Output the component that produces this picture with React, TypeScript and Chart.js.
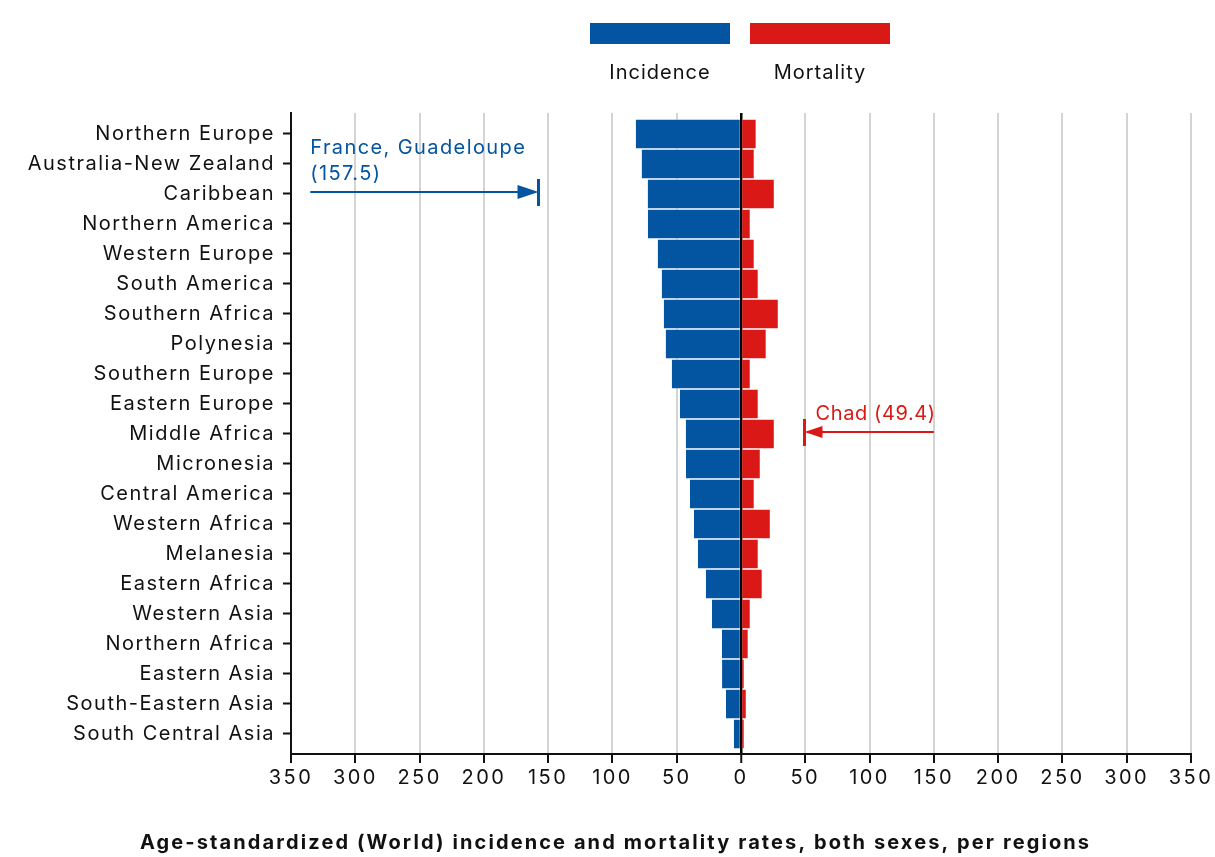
import React, { useEffect, useRef } from "react";
import { Chart, registerables } from "chart.js";

Chart.register(...registerables);

const regions = [
  "Northern Europe",
  "Australia-New Zealand",
  "Caribbean",
  "Northern America",
  "Western Europe",
  "South America",
  "Southern Africa",
  "Polynesia",
  "Southern Europe",
  "Eastern Europe",
  "Middle Africa",
  "Micronesia",
  "Central America",
  "Western Africa",
  "Melanesia",
  "Eastern Africa",
  "Western Asia",
  "Northern Africa",
  "Eastern Asia",
  "South-Eastern Asia",
  "South Central Asia",
];

const incidence = [
  81.8, 77.2, 72.5, 72.4, 64.7, 61.6, 60.0, 58.5, 53.8, 47.5, 42.9, 42.8,
  39.7, 36.6, 33.5, 27.3, 22.6, 14.8, 14.7, 11.7, 5.5,
];

const mortality = [
  11.4, 9.9, 25.5, 6.8, 9.9, 13.0, 28.6, 19.2, 6.8, 13.0, 25.5, 14.6, 9.9,
  22.4, 13.0, 16.1, 6.8, 5.2, 2.1, 3.7, 2.1,
];

const xTicks = [-350, -300, -250, -200, -150, -100, -50, 0, 50, 100, 150, 200, 250, 300, 350];

const franceLabel = ["France, Guadeloupe", "(157.5)"];
const franceValue = 157.5;
const chadLabel = "Chad (49.4)";
const chadValue = 49.4;

const titleText =
  "Age-standardized (World) incidence and mortality rates, both sexes, per regions";

const BLUE = "#0455A1";
const RED = "#DA1916";
const FONT = "Inter, 'Noto Sans', sans-serif";

export default function App() {
  const ref = useRef<HTMLCanvasElement | null>(null);

  useEffect(() => {
    const canvas = ref.current;
    if (!canvas) return;

    const spacing = {
      id: "spacing",
      beforeDraw(chart: any) {
        chart.ctx.letterSpacing = "2.4px"; // x tick labels
      },
      afterDatasetsDraw(chart: any) {
        chart.ctx.letterSpacing = "1.5px"; // y tick labels
      },
    };

    const overlay = {
      id: "overlay",
      afterDraw(chart: any) {
        const ctx = chart.ctx;
        const xs = chart.scales.x;
        const ys = chart.scales.y;
        ctx.save();

        // Legend
        const legendItems = [
          { label: "Incidence", color: BLUE, x: 590 },
          { label: "Mortality", color: RED, x: 750 },
        ];
        ctx.letterSpacing = "1px";
        ctx.font = `20px ${FONT}`;
        ctx.textAlign = "center";
        ctx.textBaseline = "middle";
        for (const it of legendItems) {
          ctx.fillStyle = it.color;
          ctx.fillRect(it.x, 23, 140, 21);
          ctx.fillStyle = "#111";
          ctx.fillText(it.label, it.x + 70, 73);
        }

        // France annotation
        const fy = ys.getPixelForValue(2) - 2;
        const fEnd = xs.getPixelForValue(-franceValue);
        const fStart = xs.getPixelForValue(-335);
        ctx.strokeStyle = BLUE;
        ctx.fillStyle = BLUE;
        ctx.lineWidth = 2;
        ctx.beginPath();
        ctx.moveTo(fStart, fy);
        ctx.lineTo(fEnd - 18, fy);
        ctx.stroke();
        ctx.beginPath();
        ctx.moveTo(fEnd, fy);
        ctx.lineTo(fEnd - 21, fy - 7);
        ctx.lineTo(fEnd - 21, fy + 7);
        ctx.closePath();
        ctx.fill();
        ctx.fillRect(fEnd - 1.5, fy - 13, 3, 27);
        ctx.letterSpacing = "1.4px";
        ctx.font = `20px ${FONT}`;
        ctx.textAlign = "left";
        ctx.textBaseline = "middle";
        ctx.fillText(franceLabel[0], fStart, fy - 44);
        ctx.fillText(franceLabel[1], fStart, fy - 18);

        // Chad annotation
        const cy = ys.getPixelForValue(10) - 2;
        const cEnd = xs.getPixelForValue(chadValue);
        const cStart = xs.getPixelForValue(150);
        ctx.strokeStyle = RED;
        ctx.fillStyle = RED;
        ctx.beginPath();
        ctx.moveTo(cStart, cy);
        ctx.lineTo(cEnd + 16, cy);
        ctx.stroke();
        ctx.beginPath();
        ctx.moveTo(cEnd, cy);
        ctx.lineTo(cEnd + 18, cy - 6);
        ctx.lineTo(cEnd + 18, cy + 6);
        ctx.closePath();
        ctx.fill();
        ctx.fillRect(cEnd - 1.5, cy - 13, 3, 27);
        ctx.letterSpacing = "0.6px";
        ctx.textAlign = "left";
        ctx.fillText(chadLabel, cEnd + 11, cy - 18);

        // Title
        ctx.letterSpacing = "2.1px";
        ctx.fillStyle = "#111";
        ctx.font = `bold 20px ${FONT}`;
        ctx.textAlign = "left";
        ctx.textBaseline = "middle";
        ctx.fillText(titleText, 140, 843);

        ctx.restore();
        ctx.letterSpacing = "0px";
      },
    };

    const chart = new Chart(canvas, {
      type: "bar",
      data: {
        datasets: [
          {
            label: "Incidence",
            data: incidence.map((v, i) => ({ x: -v, y: i })),
            backgroundColor: BLUE,
            borderColor: "rgba(255,255,255,0.45)",
            borderWidth: { top: 1, bottom: 1, left: 0, right: 0 },
            borderSkipped: false,
            barPercentage: 1,
            categoryPercentage: 1,
            grouped: false,
          },
          {
            label: "Mortality",
            data: mortality.map((v, i) => ({ x: v, y: i })),
            backgroundColor: RED,
            borderColor: "rgba(255,255,255,0.45)",
            borderWidth: { top: 1, bottom: 1, left: 0, right: 0 },
            borderSkipped: false,
            barPercentage: 1,
            categoryPercentage: 1,
            grouped: false,
          },
        ] as any,
      },
      plugins: [spacing, overlay],
      options: {
        indexAxis: "y",
        responsive: false,
        animation: false,
        events: [],
        layout: { padding: { top: 113, right: 24, left: 0, bottom: 0 } },
        plugins: {
          legend: { display: false },
          tooltip: { enabled: false },
          title: { display: false },
        },
        scales: {
          x: {
            type: "linear",
            min: -350,
            max: 350,
            afterBuildTicks: (scale: any) => {
              scale.ticks = xTicks.map((v) => ({ value: v }));
            },
            afterFit: (scale: any) => {
              scale.height = 857 - 754;
            },
            ticks: {
              color: "#111",
              font: { family: FONT, size: 20 },
              padding: 3,
              maxRotation: 0,
              callback: (v: any) => String(Math.abs(Number(v))),
            },
            grid: {
              color: (c: any) => (c.tick && c.tick.value === 0 ? "#000" : "#d4d4d4"),
              lineWidth: (c: any) => (c.tick && c.tick.value === 0 ? 2.5 : 2),
              tickColor: "#111",
              tickLength: 9,
              tickWidth: 2,
            },
            border: { display: true, color: "#111", width: 2 },
          },
          y: {
            type: "linear",
            reverse: true,
            offset: false,
            min: -0.7,
            max: 20.667,
            afterBuildTicks: (scale: any) => {
              scale.ticks = regions.map((_, i) => ({ value: i }));
            },
            afterFit: (scale: any) => {
              scale.width = 291;
            },
            ticks: {
              z: 1,
              color: "#111",
              font: { family: FONT, size: 20 },
              padding: 8,
              autoSkip: false,
              callback: (v: any) => regions[Number(v)] ?? "",
            },
            grid: {
              offset: false,
              drawOnChartArea: false,
              tickColor: "#111",
              tickLength: 8,
              tickWidth: 2,
            },
            border: { display: true, color: "#111", width: 2 },
          },
        },
      } as any,
    });

    return () => chart.destroy();
  }, []);

  return (
    <div style={{ position: "fixed", left: 0, top: 0, width: 1215, height: 857, background: "#fff" }}>
      <canvas ref={ref} width={1215} height={857} style={{ display: "block" }} />
    </div>
  );
}
